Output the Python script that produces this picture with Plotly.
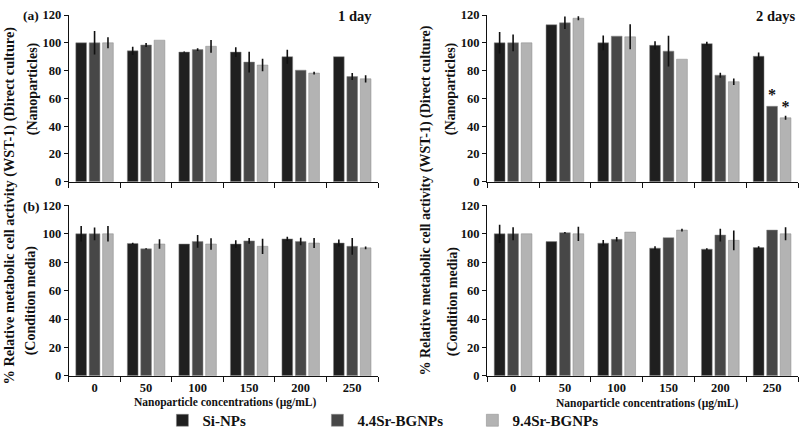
import plotly.graph_objects as go
from plotly.subplots import make_subplots

categories = ["0", "50", "100", "150", "200", "250"]
series_names = ["Si-NPs", "4.4Sr-BGNPs", "9.4Sr-BGNPs"]
colors = ["#1f1f1f", "#474747", "#b3b3b3"]

# (a) direct culture, 1 day
a1_si = [100, 94.2, 93.3, 93.3, 90.0, 90.0]
a1_si_err = [0, 3.0, 0.5, 3.5, 5.0, 0]
a1_44 = [100, 98.4, 95.1, 86.1, 80.3, 75.7]
a1_44_err = [8.5, 1.5, 1.0, 7.4, 0, 2.5]
a1_94 = [100, 101.9, 97.5, 84.0, 78.2, 74.1]
a1_94_err = [4.0, 0, 4.6, 4.5, 1.0, 2.6]

# (a) direct culture, 2 days
a2_si = [100, 113.0, 100, 98.2, 99.4, 90.3]
a2_si_err = [7.7, 0, 5.3, 3.0, 1.4, 2.7]
a2_44 = [100, 114.4, 104.8, 94.0, 76.7, 54.3]
a2_44_err = [6.0, 4.5, 0, 11.0, 1.8, 0]
a2_94 = [100, 117.7, 104.3, 88.2, 72.0, 46.0]
a2_94_err = [0, 1.4, 9.0, 0, 2.3, 1.4]
a2_44_sig = ["", "", "", "", "", "*"]
a2_94_sig = ["", "", "", "", "", "*"]

# (b) condition media, 1 day
b1_si = [100, 93.2, 92.8, 92.8, 96.4, 93.5]
b1_si_err = [5.5, 0.5, 0, 2.6, 1.5, 2.5]
b1_44 = [100, 89.4, 94.6, 95.0, 94.6, 91.2]
b1_44_err = [4.5, 0.5, 4.5, 2.0, 2.7, 5.9]
b1_94 = [100, 92.8, 92.8, 91.2, 93.5, 90.1]
b1_94_err = [5.5, 3.4, 4.0, 5.4, 3.5, 1.0]

# (b) condition media, 2 days
b2_si = [100, 94.5, 93.4, 89.9, 89.2, 90.3]
b2_si_err = [6.4, 0, 2.2, 1.3, 0.6, 1.0]
b2_44 = [100, 100.8, 96.1, 97.3, 99.1, 102.6]
b2_44_err = [4.6, 0.5, 1.6, 0, 4.5, 0]
b2_94 = [100, 100, 101.2, 102.6, 95.4, 100]
b2_94_err = [0, 5.0, 0, 1.0, 7.0, 4.6]

y_ticks = [0, 20, 40, 60, 80, 100, 120]

FONT = "Liberation Serif"

fig = make_subplots(rows=2, cols=2)

panels = [
    (1, 1, [a1_si, a1_44, a1_94], [a1_si_err, a1_44_err, a1_94_err], None),
    (1, 2, [a2_si, a2_44, a2_94], [a2_si_err, a2_44_err, a2_94_err], [None, a2_44_sig, a2_94_sig]),
    (2, 1, [b1_si, b1_44, b1_94], [b1_si_err, b1_44_err, b1_94_err], None),
    (2, 2, [b2_si, b2_44, b2_94], [b2_si_err, b2_44_err, b2_94_err], None),
]

first = True
for r, c, vals, errs, sigs in panels:
    for i in range(3):
        kw = {}
        if sigs is not None and sigs[i] is not None:
            kw = dict(text=sigs[i], textposition="outside",
                      textfont=dict(family=FONT, size=16, color="#111", weight="bold"),
                      cliponaxis=False)
        fig.add_trace(go.Bar(
            x=categories, y=vals[i], name=series_names[i],
            marker=dict(color=colors[i], line=dict(color="#888", width=0.5)),
            error_y=dict(type="data", array=errs[i], visible=True, color="#111",
                         thickness=1.6, width=0),
            showlegend=first, legendgroup=series_names[i], **kw,
        ), row=r, col=c)
    first = False

fig.update_layout(
    barmode="group", bargap=0.22, bargroupgap=0.2,
    width=800, height=437, margin=dict(l=0, r=0, t=0, b=0),
    paper_bgcolor="white", plot_bgcolor="white",
    font=dict(family=FONT, size=12, color="#111"),
    showlegend=True,
    legend=dict(orientation="h", x=0.203, y=0.022, xanchor="left", yanchor="middle",
                font=dict(family=FONT, size=15, color="#111", weight="bold"),
                itemwidth=30, entrywidth=110, traceorder="normal"),
)

xdom_left = [0.086, 0.4725]
xdom_right = [0.609, 0.9975]
ydom_top = [0.587, 0.981]
ydom_bot = [0.128, 0.531]

axis_font = dict(family=FONT, size=12.5, color="#111", weight="bold")
for r, c in [(1, 1), (1, 2), (2, 1), (2, 2)]:
    fig.update_xaxes(
        domain=xdom_left if c == 1 else xdom_right,
        showline=True, linecolor="#111", linewidth=1.2,
        ticks="outside", ticklen=5, tickcolor="#111", tickwidth=1.2,
        tickson="boundaries", showgrid=False, zeroline=False,
        showticklabels=(r == 2), tickfont=axis_font,
        row=r, col=c)
    fig.update_yaxes(
        domain=ydom_top if r == 1 else ydom_bot,
        range=[0, 120], tickvals=y_ticks,
        showline=True, linecolor="#111", linewidth=1.2,
        ticks="outside", ticklen=4, tickcolor="#111", tickwidth=1.2,
        showgrid=False, zeroline=False, tickfont=axis_font,
        row=r, col=c)


def ann(text, x, y, size=13, angle=0, xanchor="center", yanchor="middle"):
    fig.add_annotation(text=text, x=x / 800, y=1 - y / 437, xref="paper", yref="paper",
                       showarrow=False, textangle=angle, xanchor=xanchor, yanchor=yanchor,
                       font=dict(family=FONT, size=size, color="#111", weight="bold"))


long_title = "% Relative metabolic cell activity (WST-1) (Direct culture)"
ann(long_title, 9, 205, size=14.3, angle=-90)
ann(long_title, 426, 200, size=14, angle=-90)
ann("(Nanoparticles)", 33, 85, size=14, angle=-90)
ann("(Nanoparticles)", 451, 85, size=14, angle=-90)
ann("(Condition media)", 31, 303, size=14, angle=-90)
ann("(Condition media)", 453, 304, size=14, angle=-90)
ann("(a)", 31, 9, size=13.5)
ann("(b)", 31, 206, size=13.5)
ann("1 day", 374, 9, size=14.5, xanchor="right")
ann("2 days", 797, 9, size=14.5, xanchor="right")
ann("Nanoparticle concentrations (µg/mL)", 225, 409, size=11.5)
ann("Nanoparticle concentrations (µg/mL)", 647, 410, size=11.5)

fig.write_html("out.html")
